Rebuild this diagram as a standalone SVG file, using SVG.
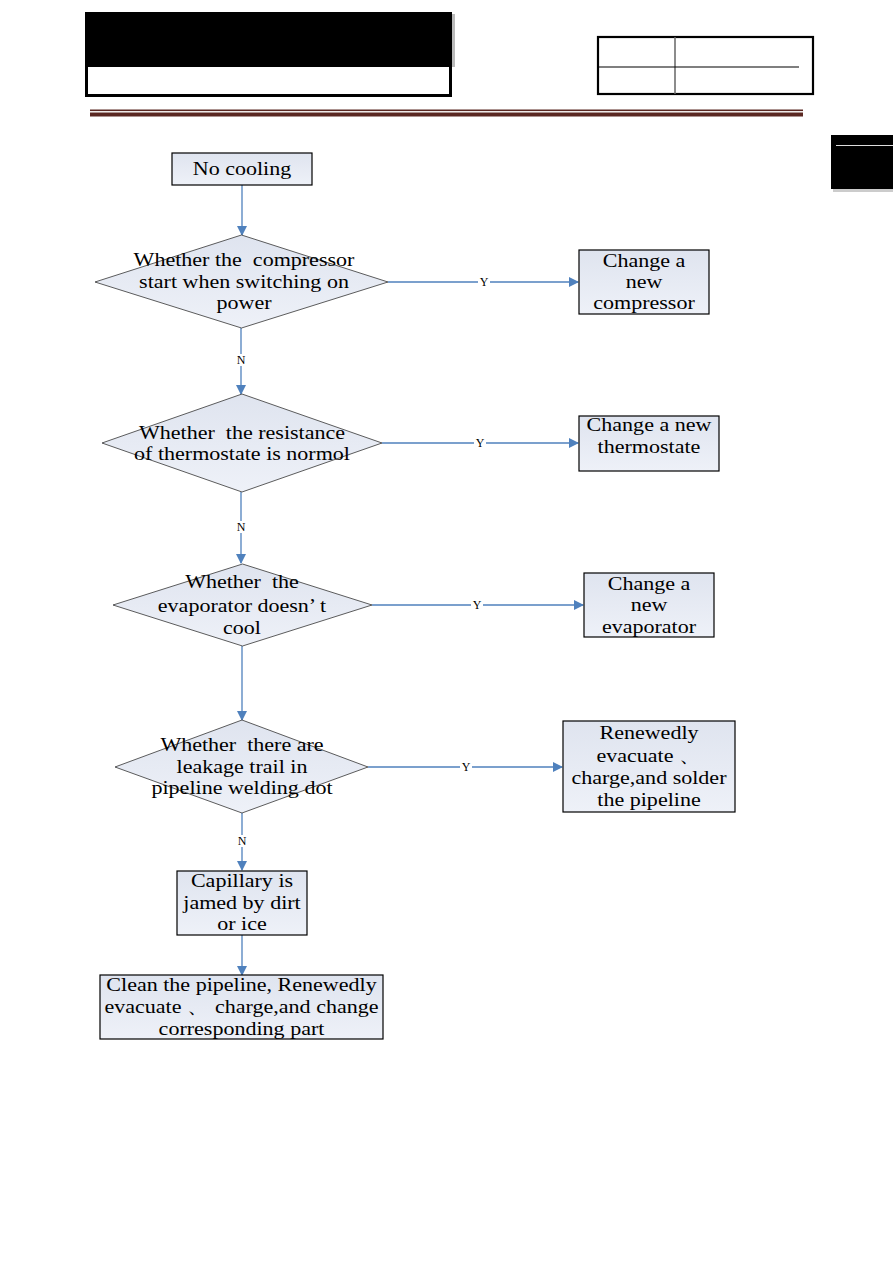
<svg xmlns="http://www.w3.org/2000/svg" width="893" height="1263" viewBox="0 0 893 1263">
<defs>
<marker id="ah" markerWidth="10" markerHeight="10" refX="9" refY="5" orient="auto" markerUnits="userSpaceOnUse">
<path d="M0,0 L10,5 L0,10 Z" fill="#4f81bd"/>
</marker>
<linearGradient id="fillg" x1="0" y1="0" x2="0" y2="1">
<stop offset="0" stop-color="#dfe4ef"/>
<stop offset="1" stop-color="#eef1f8"/>
</linearGradient>
</defs>
<style>
.box{fill:url(#fillg);stroke:#000;stroke-width:1.2}
.dia{fill:url(#fillg);stroke:#333;stroke-width:0.8}
.t{font-family:"Liberation Serif","Times New Roman",serif;font-size:19px;fill:#000;text-anchor:middle;dominant-baseline:central;white-space:pre}
.lbl{font-family:"Liberation Serif","Times New Roman",serif;font-size:12px;fill:#000;text-anchor:middle;dominant-baseline:central}
.c{stroke:#4f81bd;stroke-width:1.3;fill:none;marker-end:url(#ah)}
.lb{fill:#fff}
</style>
<rect width="893" height="1263" fill="#fff"/>
<g id="header">
<rect x="452" y="14" width="3" height="53" fill="#bbb"/>
<rect x="85" y="12" width="367" height="85" fill="#000"/>
<rect x="88" y="67" width="361" height="27" fill="#fff"/>
<rect x="90" y="109.5" width="713" height="1.6" fill="#5b2822"/>
<rect x="90" y="112.5" width="713" height="4" fill="#5b2822"/>
<rect x="598" y="37" width="215" height="57" fill="#fff" stroke="#000" stroke-width="2.2"/>
<line x1="675" y1="37" x2="675" y2="94" stroke="#666" stroke-width="1.5"/>
<line x1="598" y1="67" x2="799" y2="67" stroke="#000" stroke-width="1.2"/>
<rect x="833" y="189" width="60" height="3" fill="#ccc"/>
<rect x="831" y="135" width="62" height="54" fill="#000"/>
<line x1="836" y1="145.5" x2="893" y2="145.5" stroke="#ddd" stroke-width="1"/>
</g>
<g id="connectors">
<line class="c" x1="242" y1="185" x2="242" y2="235"/>
<line class="c" x1="388" y1="282" x2="578" y2="282"/>
<line class="c" x1="241" y1="328" x2="241" y2="394"/>
<line class="c" x1="382" y1="443" x2="578" y2="443"/>
<line class="c" x1="241" y1="492" x2="241" y2="563"/>
<line class="c" x1="372" y1="605" x2="583" y2="605"/>
<line class="c" x1="242" y1="646" x2="242" y2="720"/>
<line class="c" x1="368" y1="767" x2="562" y2="767"/>
<line class="c" x1="242" y1="813" x2="242" y2="870"/>
<line class="c" x1="242" y1="935" x2="242" y2="975"/>
<rect class="lb" x="478" y="276" width="12" height="12"/>
<text class="lbl" x="484" y="282">Y</text>
<rect class="lb" x="474" y="437" width="12" height="12"/>
<text class="lbl" x="480" y="443">Y</text>
<rect class="lb" x="471" y="599" width="12" height="12"/>
<text class="lbl" x="477" y="605">Y</text>
<rect class="lb" x="460" y="761" width="12" height="12"/>
<text class="lbl" x="466" y="767">Y</text>
<rect class="lb" x="235" y="354" width="12" height="12"/>
<text class="lbl" x="241" y="360">N</text>
<rect class="lb" x="235" y="521" width="12" height="12"/>
<text class="lbl" x="241" y="527">N</text>
<rect class="lb" x="236" y="835" width="12" height="12"/>
<text class="lbl" x="242" y="841">N</text>
</g>
<g id="n1">
<rect class="box" x="172" y="153" width="140" height="32"/>
<g transform="translate(242 0) scale(1.16 1)"><text class="t" x="0" y="169">No cooling</text></g>
</g>
<g id="d1">
<polygon class="dia" points="241.5,235 388,282 241.5,328 95,282"/>
<g transform="translate(244 0) scale(1.16 1)">
<text class="t" x="0" y="260">Whether the  compressor</text>
<text class="t" x="0" y="282">start when switching on</text>
<text class="t" x="0" y="303">power</text>
</g>
</g>
<g id="r1">
<rect class="box" x="579" y="250" width="130" height="64"/>
<g transform="translate(644 0) scale(1.16 1)">
<text class="t" x="0" y="261">Change a</text>
<text class="t" x="0" y="282">new</text>
<text class="t" x="0" y="303">compressor</text>
</g>
</g>
<g id="d2">
<polygon class="dia" points="242,394 382,443 242,492 102,443"/>
<g transform="translate(242 0) scale(1.16 1)">
<text class="t" x="0" y="433">Whether  the resistance</text>
<text class="t" x="0" y="454">of thermostate is normol</text>
</g>
</g>
<g id="r2">
<rect class="box" x="579" y="416" width="140" height="55"/>
<g transform="translate(649 0) scale(1.16 1)">
<text class="t" x="0" y="425">Change a new</text>
<text class="t" x="0" y="447">thermostate</text>
</g>
</g>
<g id="d3">
<polygon class="dia" points="242.5,564 372,605 242.5,646 113,605"/>
<g transform="translate(242 0) scale(1.16 1)">
<text class="t" x="0" y="582">Whether  the</text>
<text class="t" x="0" y="606">evaporator doesn’ t</text>
<text class="t" x="0" y="628">cool</text>
</g>
</g>
<g id="r3">
<rect class="box" x="584" y="573" width="130" height="64"/>
<g transform="translate(649 0) scale(1.16 1)">
<text class="t" x="0" y="584">Change a</text>
<text class="t" x="0" y="605">new</text>
<text class="t" x="0" y="627">evaporator</text>
</g>
</g>
<g id="d4">
<polygon class="dia" points="242,720 368,767 242,813 115,767"/>
<g transform="translate(242 0) scale(1.16 1)">
<text class="t" x="0" y="745">Whether  there are</text>
<text class="t" x="0" y="767">leakage trail in</text>
<text class="t" x="0" y="788">pipeline welding dot</text>
</g>
</g>
<g id="r4">
<rect class="box" x="563" y="721" width="172" height="91"/>
<g transform="translate(649 0) scale(1.16 1)">
<text class="t" x="0" y="733">Renewedly</text>
<text class="t" x="0" y="756">evacuate 、</text>
<text class="t" x="0" y="778">charge,and solder</text>
<text class="t" x="0" y="800">the pipeline</text>
</g>
</g>
<g id="n5">
<rect class="box" x="177" y="871" width="130" height="64"/>
<g transform="translate(242 0) scale(1.16 1)">
<text class="t" x="0" y="881">Capillary is</text>
<text class="t" x="0" y="903">jamed by dirt</text>
<text class="t" x="0" y="924">or ice</text>
</g>
</g>
<g id="n6">
<rect class="box" x="100" y="975" width="283" height="64"/>
<g transform="translate(241.5 0) scale(1.16 1)">
<text class="t" x="0" y="985">Clean the pipeline, Renewedly</text>
<text class="t" x="0" y="1007">evacuate 、 charge,and change</text>
<text class="t" x="0" y="1029">corresponding part</text>
</g>
</g>
</svg>
